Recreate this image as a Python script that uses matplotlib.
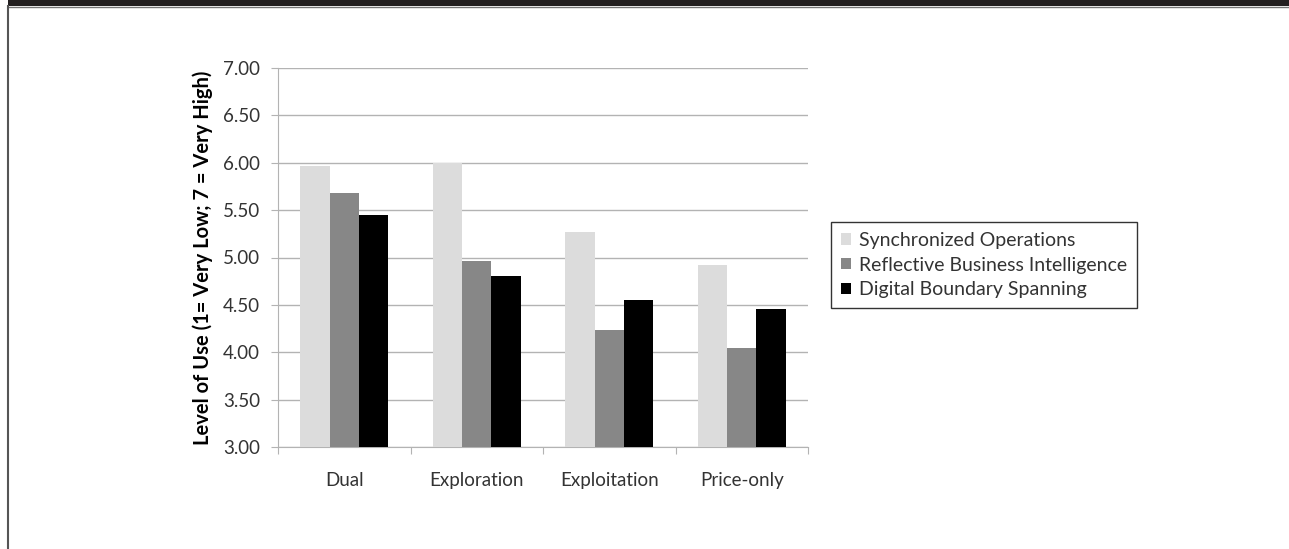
import numpy as np
import matplotlib
matplotlib.use("Agg")
import matplotlib.pyplot as plt
from matplotlib.patches import Rectangle
from matplotlib.lines import Line2D

plt.rcParams['font.family'] = ['Lato', 'DejaVu Sans']

# ── data ─────────────────────────────────────────────────────────
categories = ['Dual', 'Exploration', 'Exploitation', 'Price-only']
series_names = ['Synchronized Operations', 'Reflective Business Intelligence',
                'Digital Boundary Spanning']
sync_ops = [5.97, 6.00, 5.27, 4.92]
reflective_bi = [5.68, 4.96, 4.24, 4.05]
digital_bs = [5.45, 4.81, 4.55, 4.46]
y_ticks = [3.00, 3.50, 4.00, 4.50, 5.00, 5.50, 6.00, 6.50, 7.00]

colors = ['#dcdcdc', '#878787', '#000000']
text_col = '#333333'
grid_col = '#b3b3b3'

W, H = 1289, 549
fig = plt.figure(figsize=(W / 100, H / 100), dpi=100)

# frame bits of the page: black strip on top, thin rule down the left
fig.patches.append(Rectangle((8 / W, 1 - 6 / H), 1, 6 / H, transform=fig.transFigure,
                             facecolor='#231f20', edgecolor='none'))
fig.lines.append(Line2D([8 / W, 1], [1 - 6.5 / H, 1 - 6.5 / H], transform=fig.transFigure,
                        color='#777777', lw=1))
fig.lines.append(Line2D([8 / W, 8 / W], [0, 1 - 6 / H], transform=fig.transFigure,
                        color='#555555', lw=1.5))

ax = fig.add_axes([278 / W, 1 - 447 / H, (808 - 278) / W, (447 - 68) / H])

x = np.arange(len(categories))
bw = 0.222
for k, (vals, name) in enumerate(zip([sync_ops, reflective_bi, digital_bs], series_names)):
    ax.bar(x + (k - 1) * bw, np.array(vals) - 3.0, bw, bottom=3.0, color=colors[k],
           label=name, zorder=3, linewidth=0)

ax.set_xlim(-0.5, len(categories) - 0.5)
ax.set_ylim(3.0, 7.0)
ax.set_yticks(y_ticks)
ax.set_yticklabels([f'{v:.2f}' for v in y_ticks], fontsize=13.5, color=text_col)
ax.yaxis.grid(True, color=grid_col, lw=1, zorder=0)

# group boundary ticks + labels at centers
ax.set_xticks(np.arange(len(categories) + 1) - 0.5)
ax.set_xticklabels([])
ax.set_xticks(x, minor=True)
ax.set_xticklabels(categories, minor=True, fontsize=13.5, color=text_col)
ax.tick_params(axis='x', which='major', length=5, color=grid_col, direction='out')
ax.tick_params(axis='x', which='minor', length=0, pad=18)
ax.tick_params(axis='y', length=5, color=grid_col, pad=8)

for side in ['top', 'right']:
    ax.spines[side].set_visible(False)
for side in ['left', 'bottom']:
    ax.spines[side].set_color(grid_col)

ax.set_ylabel('Level of Use (1= Very Low; 7 = Very High)', fontsize=14.5,
              fontweight='bold', color='#000000', labelpad=7)

leg = ax.legend(loc='upper left', bbox_to_anchor=(831 / W, 1 - 222 / H),
                bbox_transform=fig.transFigure, frameon=True, fancybox=False,
                fontsize=14, handlelength=0.55, handleheight=0.55, handletextpad=0.4,
                labelspacing=0.4, borderpad=0.5, borderaxespad=0)
leg.get_frame().set_edgecolor('#000000')
leg.get_frame().set_linewidth(1)
for t in leg.get_texts():
    t.set_color(text_col)

fig.savefig('out.png', dpi=100)
